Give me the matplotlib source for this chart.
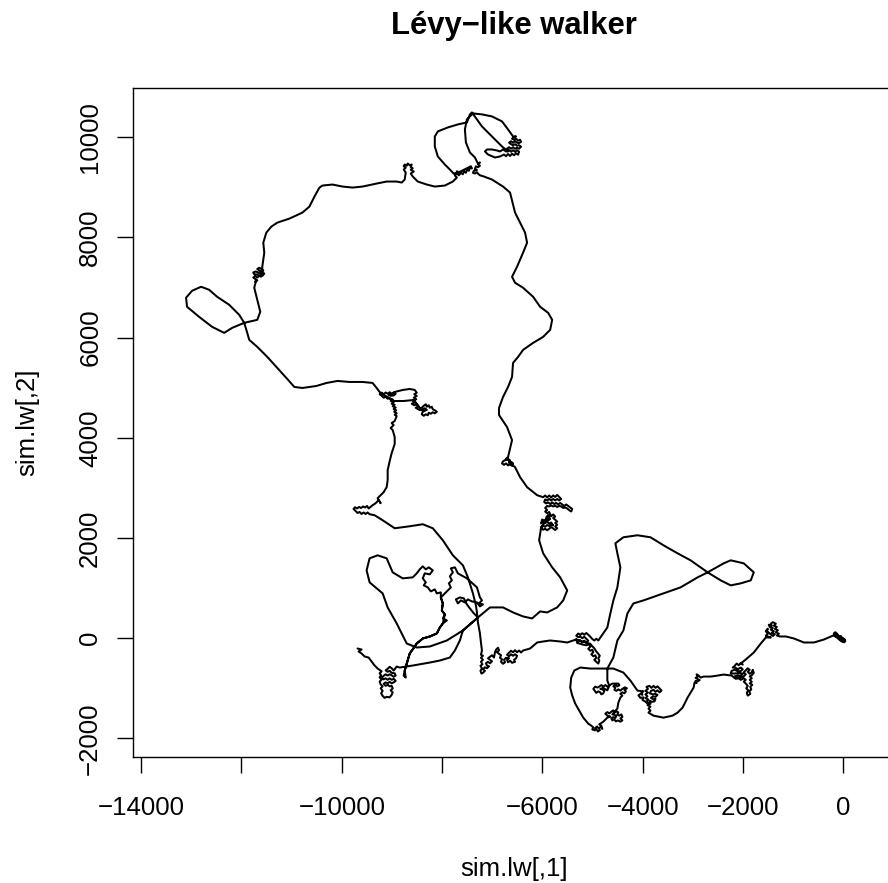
import numpy as np
import matplotlib
matplotlib.use("Agg")
import matplotlib.pyplot as plt

plt.rcParams['font.family'] = ['Liberation Sans', 'DejaVu Sans']

title = "L\u00e9vy\u2212like walker"
x_label = "sim.lw[,1]"
y_label = "sim.lw[,2]"
x_ticks = [-14000, -12000, -10000, -8000, -6000, -4000, -2000, 0]
x_tick_labels = ["\u221214000", "", "\u221210000", "", "\u22126000", "\u22124000", "\u22122000", "0"]
y_ticks = [-2000, 0, 2000, 4000, 6000, 8000, 10000]
y_tick_labels = ["\u22122000", "0", "2000", "4000", "6000", "8000", "10000"]

# walker positions (x, y)
leg_start = [
    (15, -25), (40, -55), (20, -80), (-20, -70), (10, -50), (30, -25), (0, -5), (-30, -30), (-40, 10),
    (-80, -10), (-70, 35), (-110, 10), (-100, 55), (-140, 75), (-150, 30), (-180, 50), (-130, 95),
    (-160, 120), (-190, 95), (-150, 60), (-120, 80), (-90, 30), (-50, 45), (-60, 0), (-20, 15), (-10, -40),
    (-40, -60), (-90, -20), (-130, 20), (-190, 60),
    (-245, 35), (-385, -25), (-585, -85), (-785, -85), (-985, -5), (-1145, 35), (-1265, 35),
    (-1325, 55), (-1285, 90), (-1345, 120), (-1305, 160), (-1365, 185), (-1325, 225), (-1385, 250),
    (-1345, 290), (-1405, 320), (-1445, 290), (-1425, 250), (-1485, 270), (-1465, 220), (-1405, 205),
    (-1445, 170), (-1385, 140), (-1425, 110), (-1365, 80), (-1405, 45), (-1445, 75), (-1485, 110),
    (-1525, 150), (-1505, 190), (-1545, 140), (-1505, 90), (-1545, 50), (-1485, 30), (-1445, 15),
    (-1545, 15),
    (-1645, -105), (-1785, -285), (-1945, -425), (-2045, -505),
    (-2005, -525), (-2045, -495), (-2085, -540), (-2125, -505), (-2165, -550), (-2205, -585), (-2145, -590),
    (-2105, -620), (-2045, -585), (-2005, -620), (-2045, -655), (-2105, -660), (-2165, -630), (-2225, -650),
    (-2245, -700), (-2185, -705), (-2125, -700), (-2065, -690), (-2005, -710), (-2045, -745), (-2105, -740),
    (-2165, -760), (-2105, -785), (-2045, -780), (-1985, -760), (-1945, -720), (-1985, -680), (-1945, -640),
    (-1905, -600), (-1865, -630), (-1905, -670), (-1865, -710), (-1825, -680), (-1805, -630), (-1785, -690),
    (-1825, -740), (-1865, -760), (-1825, -800), (-1865, -830), (-1825, -870), (-1865, -900), (-1815, -930),
    (-1855, -970), (-1835, -1020), (-1875, -1060), (-1855, -1110), (-1905, -1145), (-1925, -1090),
    (-1895, -1040), (-1935, -1000), (-1905, -950), (-1945, -905), (-1985, -865), (-1945, -830),
    (-1985, -800), (-2045, -830), (-2085, -800), (-2145, -810), (-2185, -780), (-2225, -745),
    (-2385, -725), (-2505, -745), (-2645, -765), (-2785, -765),
    (-2845, -785), (-2885, -745), (-2925, -720), (-2905, -770), (-2945, -790), (-2905, -815), (-2865, -835),
    (-2905, -860), (-2945, -850), (-2925, -895), (-2965, -880),
    (-2985, -985), (-3045, -1085), (-3105, -1185), (-3205, -1385), (-3305, -1485), (-3405, -1545),
    (-3585, -1585), (-3785, -1545), (-3885, -1485),
    (-3845, -1445), (-3885, -1405), (-3845, -1365), (-3905, -1335), (-3865, -1295), (-3925, -1265),
    (-3885, -1225), (-3945, -1195), (-3905, -1160), (-3945, -1120), (-3895, -1085), (-3945, -1050),
    (-3895, -1010), (-3925, -970), (-3865, -950), (-3825, -990), (-3785, -950), (-3745, -990), (-3705, -960),
    (-3665, -1000), (-3625, -1045), (-3665, -1080), (-3705, -1040), (-3745, -1070), (-3785, -1030),
    (-3835, -1050), (-3855, -1100), (-3805, -1120), (-3755, -1110), (-3705, -1130), (-3745, -1170),
    (-3795, -1160), (-3835, -1190), (-3785, -1220), (-3745, -1210), (-3765, -1260), (-3815, -1270),
    (-3855, -1250), (-3845, -1310), (-3905, -1300), (-3955, -1260), (-4005, -1230), (-3985, -1180),
    (-4045, -1190), (-4085, -1140), (-4045, -1110), (-4005, -1130), (-4025, -1080), (-3985, -1060),
    (-4105, -1045), (-4245, -845), (-4385, -685), (-4585, -605), (-4785, -605), (-5045, -605), (-5245, -585),
    (-5365, -645), (-5425, -785), (-5445, -985), (-5405, -1145), (-5345, -1305), (-5265, -1445),
    (-5185, -1585), (-5085, -1705),
    (-5025, -1745), (-4985, -1780), (-5005, -1820), (-4955, -1840), (-4945, -1790), (-4905, -1760),
    (-4925, -1810), (-4895, -1860), (-4855, -1835), (-4875, -1790), (-4835, -1770), (-4805, -1810),
    (-4825, -1745), (-4865, -1720), (-4845, -1705),
    (-4785, -1665), (-4705, -1585),
    (-4645, -1565), (-4705, -1545), (-4745, -1505), (-4705, -1475), (-4665, -1500), (-4625, -1465),
    (-4585, -1440), (-4565, -1490), (-4525, -1460), (-4485, -1480), (-4505, -1520), (-4465, -1545),
    (-4425, -1520), (-4405, -1570), (-4445, -1600), (-4405, -1640), (-4445, -1665), (-4495, -1640),
    (-4535, -1660), (-4565, -1620), (-4605, -1640), (-4625, -1600), (-4585, -1575), (-4545, -1590),
    (-4525, -1550), (-4565, -1530), (-4605, -1520),
    (-4505, -1405), (-4485, -1285), (-4445, -1185),
    (-4405, -1145), (-4445, -1110), (-4405, -1080), (-4365, -1100), (-4335, -1060), (-4365, -1030),
    (-4315, -1000), (-4355, -980), (-4405, -1010), (-4445, -1045), (-4485, -1020), (-4525, -1050),
    (-4565, -1030), (-4545, -985), (-4585, -960), (-4545, -930), (-4505, -960), (-4465, -940),
    (-4485, -905), (-4605, -905),
    (-4705, -965), (-4745, -935), (-4785, -965), (-4825, -935), (-4865, -965), (-4905, -985), (-4945, -965),
    (-4985, -1010), (-4955, -1050), (-4925, -1090), (-4885, -1060), (-4845, -1080), (-4825, -1120),
    (-4785, -1100), (-4765, -1050), (-4805, -1020), (-4845, -1010), (-4785, -995), (-4745, -1015),
    (-4705, -1040), (-4685, -995), (-4665, -945), (-4685, -900), (-4705, -845),
]

leg_east_loop = [
    (-4705, -785), (-4705, -605), (-4585, -385), (-4505, -45), (-4385, 155), (-4305, 495), (-4185, 695),
    (-3985, 755), (-3585, 895), (-3245, 1015), (-2905, 1215), (-2705, 1315), (-2385, 1495), (-2245, 1555),
    (-1985, 1495), (-1785, 1315), (-1845, 1155), (-2045, 1095), (-2245, 1055), (-2445, 1155), (-2705, 1315),
    (-3045, 1555), (-3305, 1695), (-3585, 1855), (-3845, 2015), (-4105, 2055), (-4385, 2015), (-4545, 1895),
    (-4505, 1695), (-4445, 1415), (-4505, 1015), (-4585, 755), (-4645, 495), (-4705, 215), (-4845, 15),
    (-4885, -45), (-4925, -10), (-4965, -45), (-5005, -15), (-5045, 30), (-5085, 70), (-5125, 105),
    (-5165, 70), (-5205, 100), (-5245, 70), (-5285, 95), (-5325, 50), (-5285, 20), (-5245, 35), (-5205, 0),
    (-5165, 30), (-5125, -10), (-5085, -50), (-5125, -85), (-5165, -50), (-5205, -80), (-5245, -40),
    (-5285, -60), (-5325, -20), (-5305, -95), (-5245, -110), (-5185, -130), (-5125, -140), (-5065, -120),
    (-5045, -170), (-5085, -210), (-5045, -250), (-5005, -230), (-4985, -280), (-5025, -320), (-4985, -360),
    (-4945, -340), (-4925, -390), (-4965, -430), (-4925, -470), (-4885, -505), (-4865, -450), (-4885, -400),
    (-4855, -350), (-4895, -300), (-4935, -250), (-4965, -200), (-5005, -160), (-5045, -110), (-5125, -90),
    (-5225, -60), (-5325, -25),
    (-5505, -85), (-5645, -65), (-5845, -45), (-5985, -65), (-6105, -85), (-6245, -205), (-6385, -245),
    (-6425, -285), (-6465, -245), (-6505, -280), (-6545, -240), (-6585, -280), (-6625, -250), (-6665, -290),
    (-6705, -330), (-6665, -360), (-6625, -320), (-6585, -350), (-6545, -320), (-6505, -350), (-6525, -400),
    (-6565, -430), (-6545, -470), (-6605, -490), (-6645, -450), (-6685, -480), (-6705, -430), (-6665, -400),
    (-6725, -390), (-6765, -430), (-6745, -480), (-6785, -510), (-6825, -470), (-6805, -420), (-6845, -390),
    (-6825, -340), (-6865, -310), (-6905, -280), (-6865, -240), (-6885, -190), (-6925, -230), (-6945, -280),
    (-6965, -385), (-7005, -340), (-7045, -370), (-7085, -400), (-7045, -430), (-7005, -460), (-7045, -500),
    (-7085, -470), (-7125, -500), (-7105, -545), (-7065, -560), (-7105, -600), (-7145, -580), (-7185, -620),
    (-7145, -650), (-7185, -690), (-7215, -705), (-7235, -650), (-7205, -600), (-7235, -550), (-7195, -520),
    (-7225, -470), (-7185, -430), (-7225, -390), (-7185, -350), (-7225, -330),
]

leg_north = [
    (-7205, -245), (-7225, -85), (-7245, 95), (-7285, 315), (-7305, 515), (-7325, 655), (-7385, 895),
    (-7485, 1215), (-7585, 1455), (-7685, 1555), (-7785, 1655), (-7985, 1955), (-8185, 2195), (-8385, 2275),
    (-8645, 2235), (-8945, 2195), (-9185, 2355), (-9345, 2455),
    (-9445, 2475), (-9485, 2510), (-9525, 2480), (-9565, 2510), (-9605, 2480), (-9645, 2520), (-9685, 2500),
    (-9725, 2540), (-9765, 2580), (-9735, 2615), (-9695, 2590), (-9655, 2620), (-9615, 2600), (-9575, 2630),
    (-9535, 2610), (-9495, 2640), (-9465, 2590),
    (-9385, 2655), (-9325, 2695), (-9265, 2755), (-9225, 2695), (-9285, 2795), (-9245, 2835),
    (-9165, 2915), (-9105, 3015), (-9085, 3155), (-9085, 3355), (-9045, 3535), (-9005, 3695), (-8945, 3875),
    (-8945, 4015), (-8985, 4155),
    (-9025, 4195), (-8965, 4255), (-9005, 4295), (-8945, 4335),
    (-8905, 4435), (-8945, 4460), (-8905, 4490), (-8955, 4520), (-8915, 4550), (-8965, 4575), (-8925, 4605),
    (-8985, 4630), (-8945, 4660), (-9005, 4680), (-8965, 4710), (-9025, 4735), (-8985, 4765), (-9045, 4790),
    (-9085, 4780), (-9125, 4820), (-9165, 4800), (-9205, 4840), (-9245, 4870), (-9205, 4900), (-9165, 4870),
    (-9125, 4905), (-9085, 4880), (-9045, 4910), (-9005, 4870), (-8965, 4905), (-8925, 4880), (-8965, 4845),
    (-9025, 4840), (-9065, 4850), (-8925, 4920),
    (-8785, 4955), (-8645, 4975), (-8545, 4955),
    (-8505, 4900), (-8555, 4870), (-8505, 4835), (-8565, 4800), (-8515, 4770), (-8585, 4740), (-8535, 4710),
    (-8605, 4680), (-8555, 4650), (-8505, 4670), (-8475, 4630), (-8525, 4600), (-8485, 4575), (-8445, 4555),
    (-8405, 4600), (-8365, 4640), (-8325, 4670), (-8305, 4620), (-8265, 4650), (-8245, 4600), (-8205, 4620),
    (-8185, 4570), (-8145, 4550), (-8105, 4520), (-8145, 4490), (-8185, 4510), (-8225, 4480), (-8265, 4500),
    (-8285, 4450), (-8325, 4470), (-8365, 4440), (-8405, 4470), (-8385, 4520), (-8345, 4540), (-8305, 4560),
    (-8345, 4590), (-8405, 4550),
    (-8565, 4755), (-8765, 4735), (-8965, 4735), (-9125, 4835), (-9245, 4915), (-9305, 4995), (-9385, 5095),
]

leg_west_top = [
    (-9585, 5115), (-9845, 5115), (-10085, 5135), (-10305, 5095), (-10505, 5035), (-10785, 4995),
    (-10945, 5015), (-11105, 5195), (-11305, 5415), (-11485, 5615), (-11685, 5815), (-11845, 5955),
    (-11885, 6095), (-11945, 6295), (-12045, 6455), (-12245, 6655), (-12485, 6815), (-12645, 6955),
    (-12805, 7015), (-12985, 6935), (-13105, 6795), (-13085, 6615), (-12845, 6415), (-12585, 6215),
    (-12345, 6095), (-12185, 6195), (-11945, 6295), (-11685, 6355), (-11625, 6515), (-11685, 6755),
    (-11745, 6995), (-11705, 7155),
    (-11725, 7115), (-11685, 7140), (-11725, 7170), (-11765, 7200), (-11725, 7230), (-11685, 7200),
    (-11645, 7230), (-11685, 7260), (-11745, 7265), (-11765, 7300), (-11715, 7320), (-11665, 7300),
    (-11625, 7270), (-11605, 7310), (-11645, 7340), (-11685, 7370), (-11645, 7395), (-11605, 7370),
    (-11565, 7340), (-11585, 7300), (-11545, 7280), (-11575, 7240), (-11615, 7215), (-11585, 7380),
    (-11585, 7415),
    (-11545, 7695), (-11565, 7895), (-11505, 8095), (-11405, 8215), (-11285, 8295),
    (-11045, 8375), (-10785, 8495), (-10645, 8615), (-10545, 8815), (-10445, 8995), (-10385, 9035),
    (-10185, 9055), (-9985, 9015), (-9785, 8995), (-9585, 9015), (-9305, 9075), (-9105, 9115), (-8905, 9115),
    (-8805, 9095), (-8745, 9155), (-8725, 9295),
    (-8765, 9355), (-8725, 9390), (-8765, 9420), (-8745, 9455), (-8705, 9430), (-8685, 9475), (-8645, 9440),
    (-8605, 9455), (-8625, 9405), (-8585, 9380), (-8625, 9350), (-8565, 9315), (-8605, 9290), (-8625, 9275),
    (-8585, 9215), (-8485, 9115), (-8305, 9055), (-8145, 9015), (-7945, 9035), (-7785, 9115), (-7705, 9195),
    (-7745, 9235), (-7705, 9280), (-7665, 9240), (-7625, 9290), (-7585, 9260), (-7565, 9320), (-7525, 9290),
    (-7505, 9350), (-7465, 9330), (-7445, 9390), (-7405, 9375), (-7425, 9420), (-7465, 9400), (-7505, 9380),
    (-7545, 9360), (-7585, 9340), (-7625, 9320), (-7665, 9300), (-7705, 9320), (-7685, 9270), (-7725, 9290),
    (-7765, 9270),
    (-7845, 9355), (-7945, 9455), (-8085, 9615), (-8145, 9815), (-8145, 10015), (-8085, 10115),
    (-7885, 10195), (-7685, 10255), (-7505, 10295), (-7445, 10455), (-7405, 10495),
    (-7205, 10215), (-7005, 10015), (-6805, 9815), (-6685, 9715),
    (-6725, 9715), (-6785, 9755), (-6845, 9715), (-6905, 9735), (-7005, 9755), (-7105, 9755), (-7145, 9715),
    (-7085, 9655), (-6945, 9595), (-6845, 9615), (-6765, 9655), (-6725, 9620), (-6685, 9665), (-6645, 9625),
    (-6605, 9670), (-6565, 9640), (-6525, 9680), (-6485, 9650), (-6465, 9710), (-6505, 9740), (-6545, 9710),
    (-6585, 9740), (-6625, 9710), (-6665, 9740), (-6705, 9770), (-6665, 9800), (-6625, 9770), (-6585, 9800),
    (-6545, 9770), (-6505, 9790), (-6465, 9770), (-6425, 9810), (-6465, 9840), (-6505, 9830), (-6545, 9860),
    (-6585, 9840), (-6625, 9860), (-6665, 9890), (-6625, 9920), (-6585, 9890), (-6545, 9920), (-6505, 9890),
    (-6465, 9880), (-6425, 9910), (-6445, 9950), (-6485, 9930), (-6525, 9970), (-6565, 9950), (-6605, 9970),
    (-6565, 10000), (-6525, 10015),
    (-6585, 10015), (-6685, 10155), (-6805, 10315), (-7005, 10415), (-7205, 10455), (-7385, 10475),
    (-7505, 10355), (-7545, 10155), (-7525, 9895), (-7445, 9695), (-7345, 9595), (-7285, 9475),
    (-7245, 9495), (-7285, 9460), (-7245, 9430), (-7285, 9400), (-7325, 9420), (-7345, 9370), (-7305, 9345),
    (-7365, 9330), (-7385, 9290), (-7345, 9275), (-7305, 9300), (-7275, 9265), (-7245, 9240),
]

leg_south = [
    (-7165, 9215), (-7005, 9155), (-6785, 9015), (-6645, 8895), (-6545, 8495), (-6445, 8295), (-6345, 8095),
    (-6305, 7895), (-6385, 7695), (-6505, 7415), (-6605, 7215), (-6545, 7095), (-6385, 6995), (-6185, 6815),
    (-6045, 6615), (-5885, 6495), (-5805, 6355), (-5845, 6155), (-5985, 6015), (-6185, 5895), (-6385, 5755),
    (-6485, 5615), (-6585, 5495), (-6605, 5215), (-6685, 5015), (-6785, 4815), (-6865, 4595), (-6865, 4455),
    (-6705, 4215), (-6605, 3955), (-6685, 3615),
    (-6745, 3555), (-6785, 3530), (-6805, 3490), (-6765, 3460), (-6725, 3490), (-6685, 3450), (-6645, 3470),
    (-6605, 3440), (-6585, 3490), (-6625, 3520), (-6665, 3500), (-6645, 3550), (-6685, 3580), (-6725, 3560),
    (-6705, 3600), (-6645, 3495),
    (-6545, 3415), (-6445, 3215), (-6305, 3015), (-6105, 2855),
    (-5985, 2815), (-5945, 2850), (-5905, 2810), (-5865, 2850), (-5825, 2810), (-5785, 2850), (-5745, 2820),
    (-5705, 2860), (-5665, 2820), (-5625, 2780), (-5665, 2750), (-5705, 2780), (-5745, 2750), (-5785, 2780),
    (-5825, 2750), (-5865, 2780), (-5905, 2750), (-5945, 2770), (-5965, 2720), (-5925, 2690), (-5885, 2710),
    (-5845, 2680), (-5805, 2710), (-5765, 2680), (-5725, 2700), (-5685, 2670), (-5645, 2700), (-5605, 2670),
    (-5565, 2640), (-5525, 2670), (-5485, 2640), (-5445, 2610), (-5405, 2580), (-5425, 2530), (-5465, 2555),
    (-5505, 2590), (-5545, 2610), (-5585, 2600), (-5625, 2630), (-5665, 2640), (-5705, 2620), (-5745, 2645),
    (-5785, 2630), (-5825, 2650), (-5865, 2630), (-5905, 2640), (-5945, 2600), (-5905, 2560), (-5945, 2530),
    (-5905, 2495), (-5865, 2520),
    (-5825, 2435), (-5785, 2470), (-5745, 2430), (-5785, 2400), (-5745, 2365), (-5705, 2330), (-5745, 2300),
    (-5705, 2265), (-5745, 2230), (-5705, 2195), (-5745, 2160), (-5785, 2190), (-5825, 2220), (-5865, 2185),
    (-5905, 2155), (-5945, 2185), (-5985, 2165), (-6025, 2210), (-5985, 2245), (-5945, 2225), (-5905, 2260),
    (-5865, 2240), (-5825, 2270), (-5785, 2250), (-5825, 2310), (-5865, 2290), (-5905, 2320), (-5945, 2300),
    (-5985, 2330), (-6025, 2290), (-6005, 2370), (-5965, 2350), (-5925, 2380), (-5885, 2350), (-5845, 2380),
    (-5885, 2420), (-5925, 2410), (-5885, 2460), (-5845, 2440),
    (-6025, 2215), (-6065, 1955), (-5985, 1695), (-5805, 1415), (-5645, 1215), (-5505, 955), (-5585, 755),
    (-5705, 615), (-5905, 515), (-6045, 535), (-6205, 395), (-6385, 435), (-6585, 515), (-6785, 615),
    (-7045, 615), (-7285, 415), (-7585, 155), (-7905, -45), (-8245, -165), (-8505, -185), (-8705, -105),
    (-8905, 295), (-9085, 615), (-9185, 895), (-9445, 1115), (-9505, 1355), (-9445, 1595), (-9285, 1655),
    (-9105, 1595), (-8985, 1315), (-8785, 1195), (-8585, 1215),
    (-8505, 1295), (-8445, 1375), (-8385, 1435), (-8325, 1375), (-8265, 1415), (-8185, 1355), (-8245, 1275),
    (-8345, 1295), (-8385, 1195), (-8325, 1115), (-8365, 1055), (-8285, 1015), (-8225, 935), (-8145, 975),
    (-8105, 895), (-8025, 915),
    (-8025, 815), (-7985, 695), (-8005, 555), (-7945, 475), (-7985, 395), (-7905, 355), (-7985, 295),
    (-8045, 215), (-8105, 95), (-8245, 35), (-8385, -5), (-8505, -105), (-8645, -305), (-8705, -505),
    (-8745, -645), (-8765, -745), (-8725, -785),
    (-8745, -645), (-8705, -505), (-8645, -305), (-8505, -105), (-8385, -5), (-8245, 35), (-8105, 95),
    (-8045, 215), (-7985, 295), (-7945, 475), (-8005, 555), (-7985, 695), (-8025, 815),
    (-7945, 895), (-7885, 955), (-7825, 1015), (-7865, 1095), (-7805, 1155), (-7845, 1235), (-7785, 1315),
    (-7825, 1395), (-7745, 1415),
    (-7685, 1295), (-7505, 1195), (-7305, 1015), (-7245, 815),
    (-7205, 755), (-7265, 695), (-7185, 675), (-7245, 635), (-7305, 715),
    (-7405, 735), (-7485, 775), (-7545, 715), (-7625, 755), (-7685, 695), (-7725, 775), (-7645, 815),
    (-7565, 795), (-7505, 675),
    (-7445, 595), (-7365, 495), (-7285, 415),
    (-7445, 275), (-7585, 155), (-7645, -45), (-7745, -245), (-7845, -385), (-8045, -445), (-8245, -485),
    (-8585, -545), (-8845, -585), (-8905, -565),
    (-8965, -645), (-9005, -600), (-9045, -570), (-9085, -610), (-9125, -640), (-9085, -670), (-9045, -650),
    (-9005, -690), (-8945, -700), (-8925, -745), (-8965, -770), (-9005, -740), (-9045, -720), (-9085, -745),
    (-9125, -720), (-9165, -750), (-9205, -790), (-9165, -820), (-9125, -800), (-9085, -830), (-9045, -800),
    (-9005, -830), (-8965, -810), (-8925, -850), (-8965, -880), (-9005, -900), (-9045, -870), (-9085, -900),
    (-9125, -880), (-9165, -910), (-9125, -950), (-9085, -930), (-9045, -960), (-9005, -950), (-8985, -1000),
    (-9025, -1040), (-8985, -1080), (-9005, -1130), (-9045, -1180), (-9105, -1170), (-9145, -1190),
    (-9185, -1150), (-9215, -1100), (-9185, -1050), (-9225, -1000), (-9185, -960), (-9225, -920),
    (-9245, -865), (-9205, -825), (-9245, -780), (-9215, -740), (-9245, -700), (-9205, -660),
    (-9285, -605), (-9345, -545), (-9405, -465), (-9465, -385), (-9545, -365), (-9605, -305), (-9665, -265),
    (-9605, -225), (-9685, -205),
]

walk = np.array(leg_start + leg_east_loop + leg_north + leg_west_top + leg_south, dtype=float)

fig = plt.figure(figsize=(8.88, 8.83), dpi=100)
# R plot region with asp = 1; the right edge runs past the saved image
ax = fig.add_axes([0.1501, 0.1430, 0.8578, 0.7570])

ax.plot(walk[:, 0], walk[:, 1], color='black', lw=1.45,
        solid_joinstyle='round', solid_capstyle='round')

ax.set_xlim(-14157, 1031)
ax.set_ylim(-2365, 10976)

ax.set_xticks(x_ticks)
ax.set_xticklabels(x_tick_labels)
ax.set_yticks(y_ticks)
ax.set_yticklabels(y_tick_labels, rotation=90, va='center')

ax.tick_params(axis='both', direction='out', length=11.5, width=1.0,
               labelsize=18.6, color='black')
ax.tick_params(axis='x', pad=16.8)
ax.tick_params(axis='y', pad=10.9)
for sp in ax.spines.values():
    sp.set_linewidth(1.0)
    sp.set_color('black')

fig.text(514 / 888, 1 - 34 / 883, title, ha='center', va='baseline',
         fontsize=22.3, fontweight='bold')
fig.text(514 / 888, 1 - 876 / 883, x_label, ha='center', va='baseline',
         fontsize=18.6)
fig.text(34.5 / 888, 1 - 422 / 883, y_label, ha='center', va='baseline',
         rotation=90, rotation_mode='anchor', fontsize=18.6)

fig.savefig('out.png', dpi=100)
